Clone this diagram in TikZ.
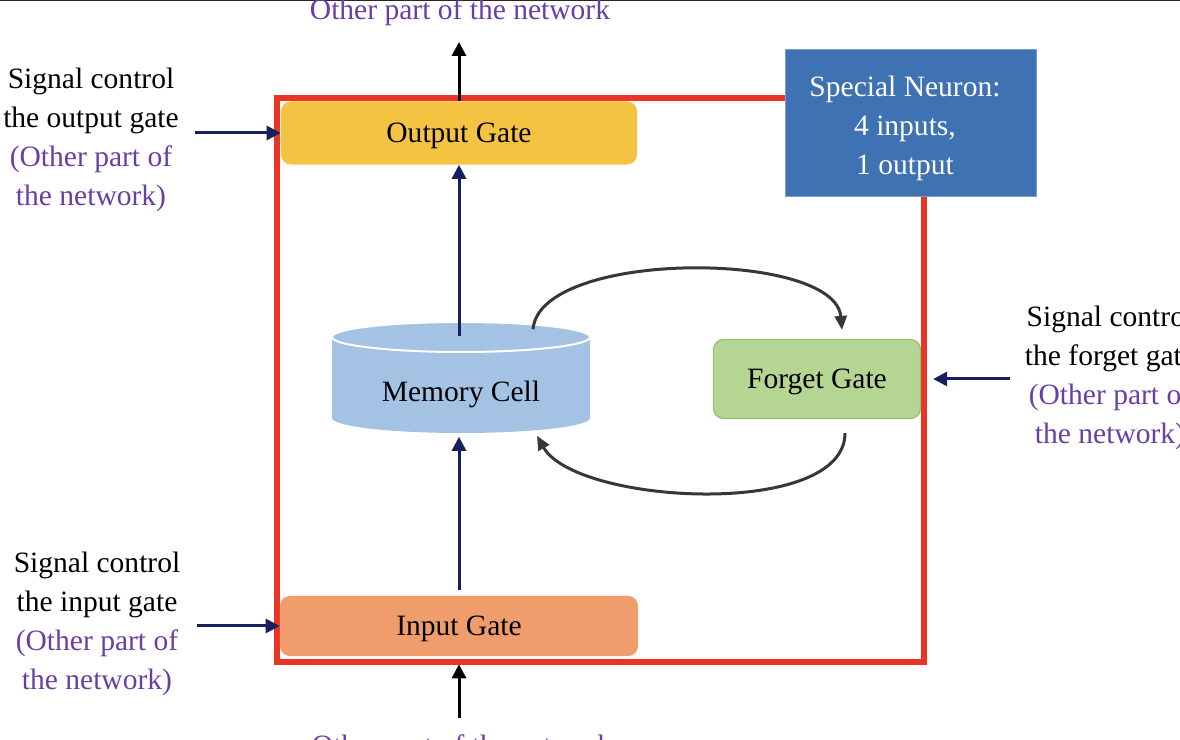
\documentclass[tikz,border=0pt]{standalone}
\usepackage{fontspec}
\setmainfont{Liberation Serif}
\usetikzlibrary{arrows.meta,positioning}
\definecolor{framered}{RGB}{234,52,38}
\definecolor{outcol}{RGB}{244,195,66}
\definecolor{incol}{RGB}{240,157,110}
\definecolor{memcol}{RGB}{164,195,228}
\definecolor{forcol}{RGB}{181,214,146}
\definecolor{forline}{RGB}{150,192,112}
\definecolor{neucol}{RGB}{63,114,178}
\definecolor{lilac}{RGB}{105,62,165}
\definecolor{navy}{RGB}{22,32,92}
\definecolor{loopcol}{RGB}{55,55,55}
\begin{document}
\begin{tikzpicture}[x=0.025cm,y=-0.025cm,
    font=\fontsize{21}{27.7}\selectfont,
    gate/.style={rounded corners=0.25cm,inner sep=0pt,text depth=0pt},
    sig/.style={align=center},
    oth/.style={text=lilac},
    feed/.style={navy,line width=0.075cm,-{Triangle[length=0.35cm,width=0.35cm]}},
    ext/.style={black,line width=0.075cm,-{Triangle[length=0.35cm,width=0.35cm]}},
    loop/.style={loopcol,line width=0.075cm,-{Triangle[length=0.35cm,width=0.3cm]}}]
    \useasboundingbox (0,0) rectangle (1180,740);
    \clip (0,0) rectangle (1180,740);
    \draw [black!85,line width=0.05cm](0,0)--(1180,0);
    \draw [framered,line width=0.15cm](277,98) rectangle (924,662);
    % gates
    \node [gate,fill=outcol,minimum width=8.9cm,minimum height=1.575cm](outg) at (459,133) {Output Gate};
    \node [gate,fill=incol,minimum width=8.95cm,minimum height=1.5cm](ing) at (459,626) {Input Gate};
    \node [gate,fill=forcol,draw=forline,line width=0.03cm,minimum width=5.175cm,minimum height=1.975cm](forg) at (817,379) {Forget Gate};
    \node [fill=neucol,draw=neucol!70!white,line width=0.03cm,minimum width=6.275cm,minimum height=3.675cm](neu) at (911,123) {};
    \node [text=white,align=center](neutext) at (905,128) {Special Neuron:\\4 inputs,\\1 output};
    % memory cell
    \fill [memcol](332,337) rectangle (590,418);
    \fill [memcol](461,418) ellipse [x radius=3.225cm,y radius=0.375cm];
    \draw [white,fill=memcol,line width=0.05cm](461,337) ellipse [x radius=3.225cm,y radius=0.375cm];
    \node [minimum width=6.45cm,minimum height=2.775cm](mem) at (459,377) {};
    \node [text depth=0pt](memtext) at (461,391) {Memory Cell};
    % labels
    \node [oth](toplab) at (460,12) {Other part of the network};
    \node [oth](botlab) at (462,748) {Other part of the network};
    \node [sig](sigout) at (91,140) {Signal control\\the output gate\\\textcolor{lilac}{(Other part of}\\\textcolor{lilac}{the network)}};
    \node [sig](sigin) at (97,624) {Signal control\\the input gate\\\textcolor{lilac}{(Other part of}\\\textcolor{lilac}{the network)}};
    \node [sig,anchor=west](sigfor) at (1020,378) {Signal control\\the forget gate\\\textcolor{lilac}{(Other part of}\\\textcolor{lilac}{the network)}};
    \coordinate (outsrc) at (195,133);
    \coordinate (insrc) at (197,626);
    \coordinate (forsrc) at (1010,379);
    \coordinate (topend) at (459,42);
    \coordinate (botsrc) at (459,718);
    % arrows
    \draw [feed](outsrc)--(outg.west);
    \draw [feed](insrc)--(ing.west);
    \draw [feed,shorten >=0.3cm](forsrc)--(forg.east);
    \draw [feed]([yshift=-0.375cm]mem.north)--(outg.south);
    \draw [feed,shorten <=0.15cm,shorten >=0.1cm](ing.north)--(mem.south);
    \draw [ext](outg.north)--(topend);
    \draw [ext,shorten >=0.2cm](botsrc)--(ing.south);
    \draw [loop]([shift={(74,8)}]mem.north) .. controls ([shift={(81,-72)}]mem.north) and ([shift={(18,-89)}]forg.north) .. ([shift={(25,-9)}]forg.north);
    \draw [loop]([shift={(28,14)}]forg.south) .. controls ([shift={(28,100)}]forg.south) and ([shift={(117,72)}]mem.south) .. ([shift={(78,3)}]mem.south);
\end{tikzpicture}
\end{document}
